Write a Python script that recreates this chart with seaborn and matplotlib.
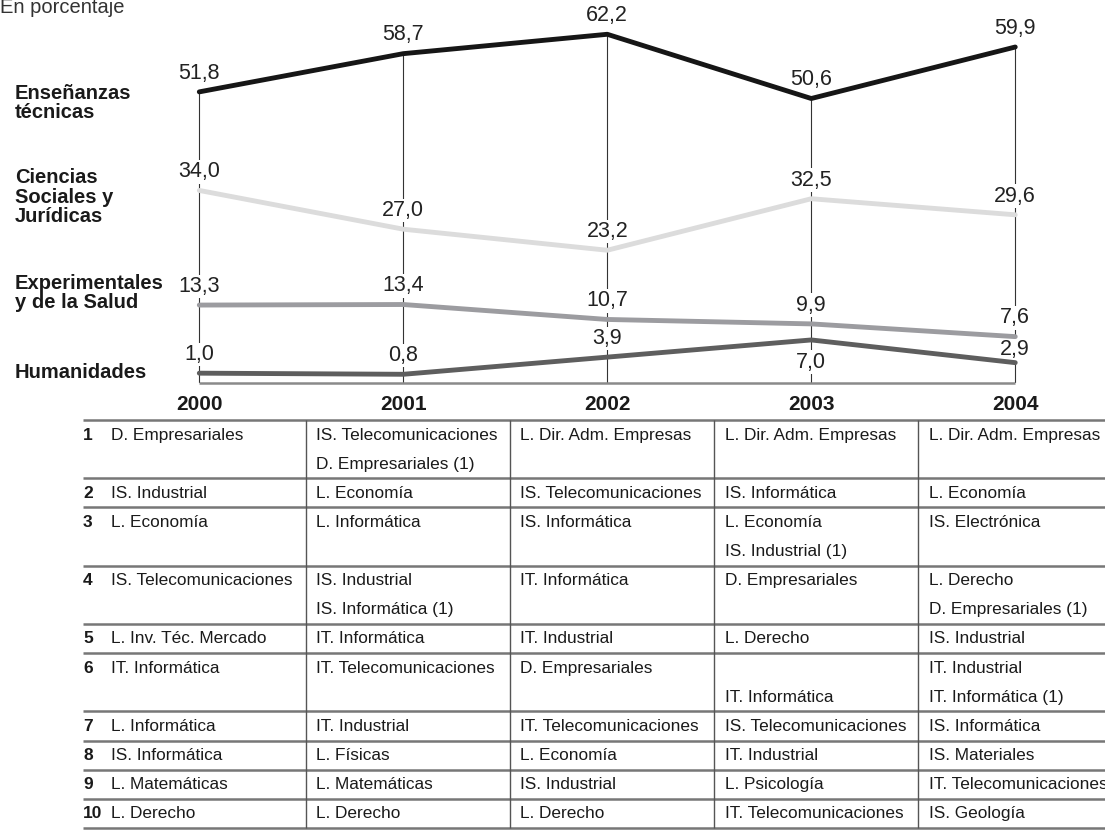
import pandas as pd
import matplotlib
matplotlib.use("Agg")
import matplotlib.pyplot as plt
import seaborn as sns

# ---- data ----
years = [2000, 2001, 2002, 2003, 2004]
ensenanzas = [51.8, 58.7, 62.2, 50.6, 59.9]
ciencias = [34.0, 27.0, 23.2, 32.5, 29.6]
experimentales = [13.3, 13.4, 10.7, 9.9, 7.6]
humanidades = [1.0, 0.8, 3.9, 7.0, 2.9]

categories = ["Enseñanzas\ntécnicas", "Ciencias\nSociales y\nJurídicas",
              "Experimentales\ny de la Salud", "Humanidades"]
series = [ensenanzas, ciencias, experimentales, humanidades]

ranks = [str(i) for i in range(1, 11)]
col_2000 = ["D. Empresariales", "IS. Industrial", "L. Economía", "IS. Telecomunicaciones",
            "L. Inv. Téc. Mercado", "IT. Informática", "L. Informática", "IS. Informática",
            "L. Matemáticas", "L. Derecho"]
col_2001 = ["IS. Telecomunicaciones\nD. Empresariales (1)", "L. Economía", "L. Informática",
            "IS. Industrial\nIS. Informática (1)", "IT. Informática", "IT. Telecomunicaciones",
            "IT. Industrial", "L. Físicas", "L. Matemáticas", "L. Derecho"]
col_2002 = ["L. Dir. Adm. Empresas", "IS. Telecomunicaciones", "IS. Informática",
            "IT. Informática", "IT. Industrial", "D. Empresariales", "IT. Telecomunicaciones",
            "L. Economía", "IS. Industrial", "L. Derecho"]
col_2003 = ["L. Dir. Adm. Empresas", "IS. Informática", "L. Economía\nIS. Industrial (1)",
            "D. Empresariales", "L. Derecho", "\nIT. Informática", "IS. Telecomunicaciones",
            "IT. Industrial", "L. Psicología", "IT. Telecomunicaciones"]
col_2004 = ["L. Dir. Adm. Empresas", "L. Economía", "IS. Electrónica",
            "L. Derecho\nD. Empresariales (1)", "IS. Industrial",
            "IT. Industrial\nIT. Informática (1)", "IS. Informática", "IS. Materiales",
            "IT. Telecomunicaciones", "IS. Geología"]
table_cols = [col_2000, col_2001, col_2002, col_2003, col_2004]

colors = {categories[0]: "#161616", categories[1]: "#dcdcdc",
          categories[2]: "#9c9ca0", categories[3]: "#5e5e5e"}


def fmt(v):
    return f"{v:.1f}".replace(".", ",")


def main():
    sns.set_theme(style="white")
    plt.rcParams["font.family"] = ["Liberation Sans", "DejaVu Sans"]

    df = pd.DataFrame({
        "year": years * len(categories),
        "value": [v for s in series for v in s],
        "category": [c for c in categories for _ in years],
    })

    W, H = 1105, 830
    fig = plt.figure(figsize=(W / 100, H / 100), dpi=100)

    # background axes in pixel units for table and side labels
    bg = fig.add_axes([0, 0, 1, 1])
    bg.set_xlim(0, W)
    bg.set_ylim(H, 0)
    bg.axis("off")

    # line chart axes
    base_px = 382.7
    ax = fig.add_axes([0, (H - base_px) / H, 1, base_px / H])
    ax.patch.set_visible(False)
    ymin, ymax = -0.72, 68.39
    ax.set_xlim(1999.023, 2004.44)
    ax.set_ylim(ymin, ymax)

    top = df.groupby("year")["value"].max()
    ax.vlines(top.index, ymin, top.values, color="#333333", lw=0.8, zorder=1)
    ax.hlines(ymin, years[0], years[-1], color="#8a8a8a", lw=1.8, zorder=1, clip_on=False)

    sns.lineplot(data=df, x="year", y="value", hue="category", palette=colors,
                 hue_order=categories, linewidth=3.5, legend=False, errorbar=None,
                 ax=ax, zorder=3, clip_on=False, solid_capstyle="round")

    for cat, vals in zip(categories, series):
        for yr, v in zip(years, vals):
            dy = 9.5
            if cat == "Humanidades" and yr == 2003:
                dy = -20
            elif cat == "Humanidades" and yr == 2004:
                dy = 5.5
            ax.annotate(fmt(v), (yr, v), xytext=(0, dy),
                        textcoords="offset points", ha="center", va="baseline",
                        fontsize=15.5, color="#222222", zorder=2,
                        bbox=dict(boxstyle="square,pad=0.06", fc="white", ec="none"))

    ax.set_xticks(years)
    ax.set_xticklabels([str(y) for y in years], fontsize=15, fontweight="bold", color="#1a1a1a")
    ax.tick_params(axis="x", length=3, color="#8a8a8a", pad=6)
    ax.set_yticks([])
    ax.set_xlabel("")
    ax.set_ylabel("")
    sns.despine(ax=ax, left=True, bottom=True)

    bg.text(0, 13, "En porcentaje", fontsize=14.5, color="#333333", va="baseline", ha="left")

    label_y = [103, 197, 293, 372]
    for cat, yp in zip(categories, label_y):
        bg.text(15, yp, cat, fontsize=14.5, fontweight="bold", color="#1a1a1a",
                va="center", ha="left", linespacing=1.05)

    # ---- table ----
    t_top = 420
    unit = 29.14
    line_x0 = 83
    col_lines = [306, 510, 714, 918]
    text_x = [111, 316, 520, 725, 929]
    n_lines = [max(col[i].count("\n") + 1 for col in table_cols) for i in range(len(ranks))]

    y = t_top
    bg.hlines(y, line_x0, W, color="#777777", lw=1.8)
    for i, rank in enumerate(ranks):
        bg.text(line_x0, y + 15, rank, fontsize=12.5, fontweight="bold",
                color="#1a1a1a", va="center", ha="left")
        for j, col in enumerate(table_cols):
            for k, line in enumerate(col[i].split("\n")):
                if line:
                    bg.text(text_x[j], y + 15 + k * 29, line, fontsize=12.4,
                            color="#1a1a1a", va="center", ha="left")
        y += unit * n_lines[i]
        bg.hlines(y, line_x0, W, color="#777777", lw=1.8)
    bg.vlines(col_lines, t_top, y, color="#555555", lw=1.0)

    fig.savefig("out.png", dpi=100)
    plt.close(fig)


if __name__ == "__main__":
    main()
